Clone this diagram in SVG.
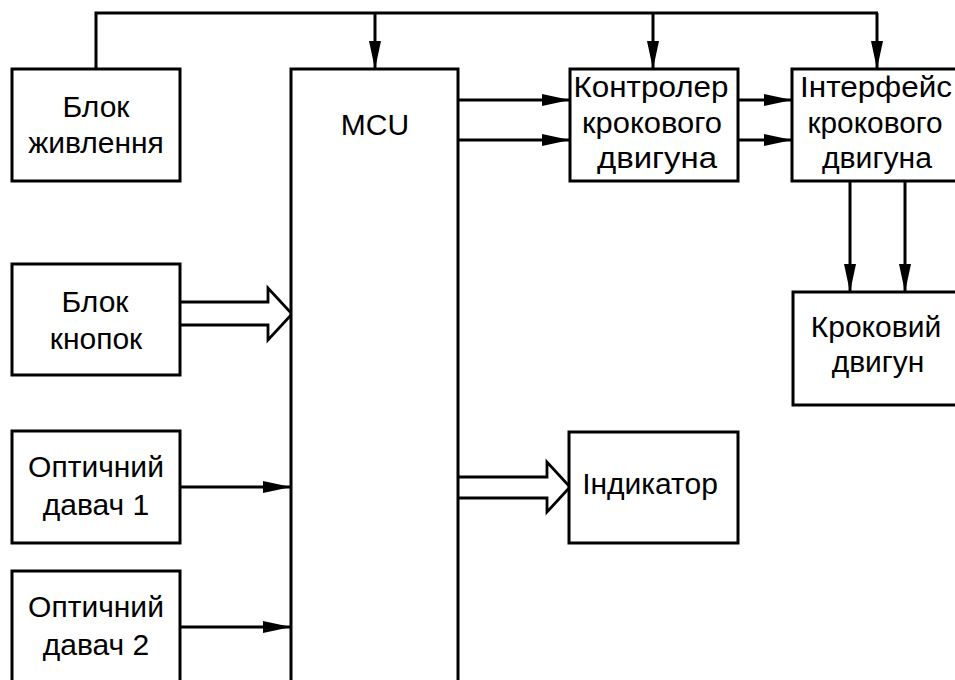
<svg xmlns="http://www.w3.org/2000/svg" width="955" height="680" viewBox="0 0 955 680">
<defs>
<marker id="ah" markerUnits="userSpaceOnUse" markerWidth="28" markerHeight="12" refX="28" refY="6" orient="auto" overflow="visible">
<path d="M0,0 L28,6 L0,12 Z" fill="#000"/>
</marker>
<style>
.box{fill:#fff;stroke:#000;stroke-width:3}
.ln{fill:none;stroke:#000;stroke-width:3}
.hol{fill:#fff;stroke:#000;stroke-width:2.8;stroke-linejoin:miter}
text{font-family:"Liberation Sans",Arial,sans-serif;font-size:30px;fill:#000;text-anchor:middle}
</style>
</defs>
<rect width="955" height="680" fill="#fff"/>
<g id="connectors">
<polyline class="ln" points="96,69 96,13 878,13"/>
<line class="ln" x1="375" y1="13" x2="375" y2="69" marker-end="url(#ah)"/>
<line class="ln" x1="653" y1="13" x2="653" y2="69" marker-end="url(#ah)"/>
<line class="ln" x1="877" y1="13" x2="877" y2="69" marker-end="url(#ah)"/>
<line class="ln" x1="459" y1="100" x2="570" y2="100" marker-end="url(#ah)"/>
<line class="ln" x1="459" y1="140" x2="570" y2="140" marker-end="url(#ah)"/>
<line class="ln" x1="738" y1="100" x2="792" y2="100" marker-end="url(#ah)"/>
<line class="ln" x1="738" y1="140" x2="792" y2="140" marker-end="url(#ah)"/>
<line class="ln" x1="850" y1="181" x2="850" y2="292" marker-end="url(#ah)"/>
<line class="ln" x1="905" y1="181" x2="905" y2="292" marker-end="url(#ah)"/>
<line class="ln" x1="180" y1="487" x2="291" y2="487" marker-end="url(#ah)"/>
<line class="ln" x1="180" y1="627" x2="291" y2="627" marker-end="url(#ah)"/>
<polyline class="hol" points="180,302 268,302 268,288 292,314 268,340 268,325 180,325"/>
<polyline class="hol" points="459,477 547,477 547,462 570,487 547,512 547,498 459,498"/>
</g>
<g id="power">
<rect class="box" x="12" y="69" width="168" height="112"/>
<text x="96" y="117">Блок</text>
<text x="96" y="153">живлення</text>
</g>
<g id="mcu">
<rect class="box" x="291" y="69" width="167" height="640"/>
<text x="375" y="135">MCU</text>
</g>
<g id="controller">
<rect class="box" x="570" y="69" width="168" height="112"/>
<text x="651" y="97" textLength="155" lengthAdjust="spacingAndGlyphs">Контролер</text>
<text x="652" y="133" textLength="140" lengthAdjust="spacingAndGlyphs">крокового</text>
<text x="657" y="168" textLength="120" lengthAdjust="spacingAndGlyphs">двигуна</text>
</g>
<g id="interface">
<rect class="box" x="792" y="69" width="175" height="112"/>
<text x="876" y="97" textLength="152" lengthAdjust="spacingAndGlyphs">Інтерфейс</text>
<text x="875" y="133" textLength="135" lengthAdjust="spacingAndGlyphs">крокового</text>
<text x="877" y="168" textLength="110" lengthAdjust="spacingAndGlyphs">двигуна</text>
</g>
<g id="motor">
<rect class="box" x="793" y="292" width="175" height="113"/>
<text x="876" y="337">Кроковий</text>
<text x="878" y="372">двигун</text>
</g>
<g id="buttons">
<rect class="box" x="12" y="264" width="168" height="111"/>
<text x="95" y="312">Блок</text>
<text x="96" y="349">кнопок</text>
</g>
<g id="sensor1">
<rect class="box" x="12" y="431" width="168" height="112"/>
<text x="96" y="477">Оптичний</text>
<text x="96" y="515">давач 1</text>
</g>
<g id="sensor2">
<rect class="box" x="12" y="571" width="168" height="130"/>
<text x="96" y="617">Оптичний</text>
<text x="96" y="655">давач 2</text>
</g>
<g id="indicator">
<rect class="box" x="569" y="432" width="169" height="111"/>
<text x="650" y="494">Індикатор</text>
</g>
</svg>
